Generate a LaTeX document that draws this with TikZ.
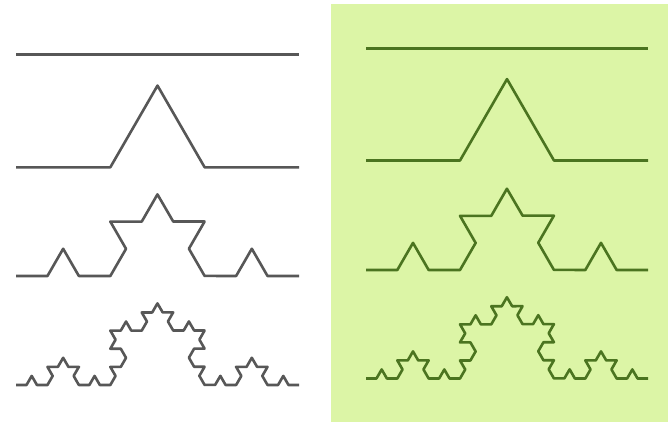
\documentclass[tikz,border=0pt]{standalone}
\usetikzlibrary{decorations.fractals}
\definecolor{bggreen}{HTML}{DCF5A6}
\definecolor{lgray}{HTML}{575757}
\definecolor{lgreen}{HTML}{4B7420}
\tikzset{
  kochleft/.style={draw=lgray,line width=2.6pt,line join=round,line cap=butt,decoration=Koch snowflake},
  kochright/.style={draw=lgreen,line width=2.6pt,line join=round,line cap=butt,decoration=Koch snowflake}
}
\begin{document}
\begin{tikzpicture}[x=1pt,y=1pt]
\useasboundingbox (0,0) rectangle (668,-422);
\fill[white] (0,0) rectangle (668,-422);
\fill[bggreen] (331,-4) rectangle (668,-422);
% left panel
\draw[kochleft] (16,-54.3) -- (299,-54.3);
\draw[kochleft] decorate{(16,-167.3) -- (299,-167.3)};
\draw[kochleft] decorate{decorate{(16,-276) -- (299,-276)}};
\draw[kochleft] decorate{decorate{decorate{(16,-385) -- (299,-385)}}};
% right panel
\draw[kochright] (366,-48.3) -- (648,-48.3);
\draw[kochright] decorate{(366,-160.5) -- (648,-160.5)};
\draw[kochright] decorate{decorate{(366,-270) -- (648,-270)}};
\draw[kochright] decorate{decorate{decorate{(366,-378.5) -- (648,-378.5)}}};
\end{tikzpicture}
\end{document}
